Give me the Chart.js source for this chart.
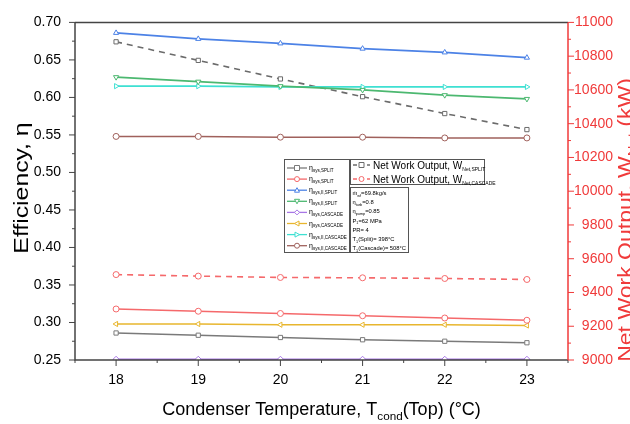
<!DOCTYPE html>
<html>
<head>
<meta charset="utf-8">
<script src="https://cdn.jsdelivr.net/npm/chart.js@4.4.1/dist/chart.umd.min.js"></script>
<style>
  html, body { margin: 0; padding: 0; background: #fff; }
  canvas { display: block; }
</style>
</head>
<body>
<canvas id="chart" width="630" height="424"></canvas>
<script>
// data
var condTemps = [18, 19, 20, 21, 22, 23];
var etaSysSplit = [0.286, 0.283, 0.280, 0.277, 0.275, 0.273];
var etaSysSplitB = [0.318, 0.315, 0.312, 0.309, 0.306, 0.303];
var etaSysIISplit = [0.686, 0.678, 0.672, 0.665, 0.660, 0.653];
var etaSysIISplitB = [0.627, 0.621, 0.615, 0.610, 0.603, 0.598];
var etaSysCascade = [0.251, 0.251, 0.251, 0.251, 0.251, 0.251];
var etaSysCascadeB = [0.298, 0.298, 0.297, 0.297, 0.297, 0.296];
var etaSysIICascade = [0.615, 0.615, 0.614, 0.614, 0.614, 0.614];
var etaSysIICascadeB = [0.548, 0.548, 0.547, 0.547, 0.546, 0.546];
var wNetSplit = [10885, 10775, 10665, 10560, 10460, 10365];
var wNetCascade = [9506, 9497, 9489, 9487, 9483, 9477];

var effTicks = [0.25, 0.30, 0.35, 0.40, 0.45, 0.50, 0.55, 0.60, 0.65, 0.70];
var workTicks = [9000, 9200, 9400, 9600, 9800, 10000, 10200, 10400, 10600, 10800, 11000];

var FONT = '"Liberation Sans", Arial, sans-serif';
var RED = '#f03a3a';

function pts(arr) {
    return condTemps.map(function(t, i) { return { x: t, y: arr[i] }; });
}

// [label sub, values, colour, marker, axis, dashed]
var series = [
    ['sys,SPLIT', etaSysSplit, '#7a7a7a', 'rect', 'y', false],
    ['sys,SPLIT', etaSysSplitB, '#f5696b', 'circle', 'y', false],
    ['sys,II,SPLIT', etaSysIISplit, '#4c82e6', 'up', 'y', false],
    ['sys,II,SPLIT', etaSysIISplitB, '#4cb870', 'down', 'y', false],
    ['sys,CASCADE', etaSysCascade, '#a877e6', 'diamond', 'y', false],
    ['sys,CASCADE', etaSysCascadeB, '#e8b62e', 'left', 'y', false],
    ['sys,II,CASCADE', etaSysIICascade, '#3ee0d2', 'right', 'y', false],
    ['sys,II,CASCADE', etaSysIICascadeB, '#a0615c', 'circle', 'y', false],
    ['Net,SPLIT', wNetSplit, '#6b6b6b', 'rect', 'y2', true],
    ['Net,CASCADE', wNetCascade, '#f5696b', 'circle', 'y2', true]
];

var styleMap = {
    rect: ['rect', 0], circle: ['circle', 0], up: ['triangle', 0], down: ['triangle', 180],
    left: ['triangle', 270], right: ['triangle', 90], diamond: ['rectRot', 0]
};

var datasets = series.map(function(s) {
    return {
        label: s[0],
        data: pts(s[1]),
        yAxisID: s[4],
        borderColor: s[2],
        backgroundColor: '#fff',
        pointBorderColor: s[2],
        pointBackgroundColor: '#fff',
        pointStyle: styleMap[s[3]][0],
        pointRotation: styleMap[s[3]][1],
        pointRadius: 3,
        pointBorderWidth: 1,
        borderWidth: 1.6,
        borderDash: s[5] ? [6, 5] : [],
        tension: 0,
        fill: false
    };
});

function marker(ctx, kind, x, y, r) {
    ctx.beginPath();
    if (kind == 'circle') ctx.arc(x, y, r, 0, Math.PI * 2);
    else if (kind == 'rect') ctx.rect(x - r, y - r, 2 * r, 2 * r);
    else if (kind == 'diamond') { ctx.moveTo(x, y - r); ctx.lineTo(x + r, y); ctx.lineTo(x, y + r); ctx.lineTo(x - r, y); }
    else if (kind == 'up') { ctx.moveTo(x, y - r); ctx.lineTo(x + r, y + r * 0.8); ctx.lineTo(x - r, y + r * 0.8); }
    else if (kind == 'down') { ctx.moveTo(x, y + r); ctx.lineTo(x + r, y - r * 0.8); ctx.lineTo(x - r, y - r * 0.8); }
    else if (kind == 'left') { ctx.moveTo(x - r, y); ctx.lineTo(x + r * 0.8, y - r); ctx.lineTo(x + r * 0.8, y + r); }
    else if (kind == 'right') { ctx.moveTo(x + r, y); ctx.lineTo(x - r * 0.8, y - r); ctx.lineTo(x - r * 0.8, y + r); }
    ctx.closePath();
    ctx.fill();
    ctx.stroke();
}

// text with subscripts: parts = [[text, isSub], ...]
function richWidth(ctx, parts, size, subK) {
    subK = subK || 0.65;
    var w = 0;
    parts.forEach(function(p) {
        ctx.font = (p[1] ? size * subK : size) + 'px ' + FONT;
        w += ctx.measureText(p[0]).width;
    });
    return w;
}
function drawRich(ctx, parts, x, y, size, color, subK) {
    subK = subK || 0.65;
    ctx.fillStyle = color;
    ctx.textAlign = 'left';
    ctx.textBaseline = 'alphabetic';
    var cx = x;
    parts.forEach(function(p) {
        ctx.font = (p[1] ? size * subK : size) + 'px ' + FONT;
        ctx.fillText(p[0], cx, p[1] ? y + size * 0.28 : y);
        cx += ctx.measureText(p[0]).width;
    });
}

var framePlugin = {
    id: 'frame',
    afterDraw: function(chart) {
        var ctx = chart.ctx;
        var a = chart.chartArea;
        var xs = chart.scales.x, ys = chart.scales.y, y2 = chart.scales.y2;
        ctx.save();
        ctx.lineWidth = 1.5;
        ctx.strokeStyle = '#444';
        ctx.beginPath();
        ctx.moveTo(a.left, a.top); ctx.lineTo(a.right, a.top);
        ctx.moveTo(a.left, a.top); ctx.lineTo(a.left, a.bottom); ctx.lineTo(a.right, a.bottom);
        ctx.stroke();
        // ticks
        ctx.lineWidth = 1;
        ctx.beginPath();
        for (var v = 17.5; v <= 23.51; v += 0.5) {
            var px = xs.getPixelForValue(v);
            var len = Math.abs(v - Math.round(v)) < 0.01 ? 6 : 3;
            ctx.moveTo(px, a.bottom); ctx.lineTo(px, a.bottom + len);
        }
        for (var e = 0; e <= 18; e++) {
            var py = ys.getPixelForValue(0.25 + e * 0.025);
            ctx.moveTo(a.left, py); ctx.lineTo(a.left - (e % 2 ? 3 : 6), py);
        }
        ctx.stroke();
        ctx.strokeStyle = RED;
        ctx.lineWidth = 1.5;
        ctx.beginPath();
        ctx.moveTo(a.right, a.top); ctx.lineTo(a.right, a.bottom);
        ctx.stroke();
        ctx.lineWidth = 1;
        ctx.beginPath();
        for (var w = 0; w <= 20; w++) {
            var pw = y2.getPixelForValue(9000 + w * 100);
            ctx.moveTo(a.right, pw); ctx.lineTo(a.right + (w % 2 ? 3 : 6), pw);
        }
        ctx.stroke();

        // axis titles
        var xt = [['Condenser Temperature, T', false], ['cond', true], ['(Top) (\u00B0C)', false]];
        var xw = richWidth(ctx, xt, 18);
        drawRich(ctx, xt, (a.left + a.right) / 2 - xw / 2, 415, 18, '#000');

        var yt = [['Efficiency, \u03B7', false]];
        ctx.save();
        ctx.translate(28, 188);
        ctx.rotate(-Math.PI / 2);
        ctx.scale(1.18, 1);
        drawRich(ctx, yt, -richWidth(ctx, yt, 21) / 2, 0, 21, '#000');
        ctx.restore();

        var rt = [['Net Work Output, W', false], ['Net', true], [' (kW)', false]];
        ctx.save();
        ctx.translate(632, 220);
        ctx.rotate(-Math.PI / 2);
        ctx.scale(1.18, 1);
        drawRich(ctx, rt, -richWidth(ctx, rt, 19.5) / 2, 0, 19.5, RED);
        ctx.restore();

        // legend boxes
        ctx.strokeStyle = '#555';
        ctx.lineWidth = 1;
        ctx.fillStyle = '#fff';
        [[284.5, 159.5, 65, 93], [350.5, 159.5, 134, 25], [350.5, 187.5, 58, 65]].forEach(function(b) {
            ctx.fillRect(b[0], b[1], b[2], b[3]);
            ctx.strokeRect(b[0], b[1], b[2], b[3]);
        });
        for (var i = 0; i < 8; i++) {
            var s = series[i];
            var ly = 168 + i * 11.1;
            ctx.strokeStyle = s[2];
            ctx.lineWidth = 1.3;
            ctx.setLineDash([]);
            ctx.beginPath(); ctx.moveTo(287, ly); ctx.lineTo(307, ly); ctx.stroke();
            ctx.lineWidth = 1;
            ctx.fillStyle = '#fff';
            marker(ctx, s[3], 297, ly, 2.5);
            drawRich(ctx, [['\u03B7', false], [s[0], true]], 309, ly + 2, 7, '#000');
        }
        for (var j = 8; j < 10; j++) {
            var s2 = series[j];
            var ly2 = j == 8 ? 165 : 179;
            ctx.strokeStyle = s2[2];
            ctx.lineWidth = 1.3;
            ctx.setLineDash([4, 3]);
            ctx.beginPath(); ctx.moveTo(353, ly2); ctx.lineTo(370, ly2); ctx.stroke();
            ctx.setLineDash([]);
            ctx.lineWidth = 1;
            ctx.fillStyle = '#fff';
            marker(ctx, s2[3], 361.5, ly2, 2.5);
            drawRich(ctx, [['Net Work Output, W', false], [s2[0], true]], 373, ly2 + 3.5, 10, '#000', 0.5);
        }
        var params = [
            [['m\u0307', false], ['wf', true], ['=69.8kg/s', false]],
            [['\u03B7', false], ['turb', true], ['=0.8', false]],
            [['\u03B7', false], ['pump', true], ['=0.85', false]],
            [['P', false], ['1', true], ['=62 MPa', false]],
            [['PR= 4', false]],
            [['T', false], ['1', true], ['(Split)= 398\u00B0C', false]],
            [['T', false], ['1', true], ['(Cascade)= 508\u00B0C', false]]
        ];
        params.forEach(function(p, k) {
            drawRich(ctx, p, 352.5, 195 + k * 9.2, 5.8, '#000');
        });
        ctx.restore();
    }
};

new Chart(document.getElementById('chart'), {
    type: 'line',
    data: { datasets: datasets },
    options: {
        responsive: false,
        animation: false,
        layout: { padding: { top: 15, right: 17, bottom: 0, left: 0 } },
        plugins: { legend: { display: false }, tooltip: { enabled: false } },
        scales: {
            x: {
                type: 'linear', min: 17.5, max: 23.5,
                afterBuildTicks: function(s) { s.ticks = condTemps.map(function(v) { return { value: v }; }); },
                afterFit: function(s) { s.height = 64; },
                grid: { display: false, drawTicks: false },
                border: { display: false },
                ticks: { padding: 12, color: '#000', font: { size: 14, family: FONT } }
            },
            y: {
                position: 'left', min: 0.25, max: 0.70,
                afterBuildTicks: function(s) { s.ticks = effTicks.map(function(v) { return { value: v }; }); },
                afterFit: function(s) { s.width = 75; },
                grid: { display: false, drawTicks: false },
                border: { display: false },
                ticks: { padding: 14, color: '#000', font: { size: 14, family: FONT },
                    callback: function(v) { return v.toFixed(2); } }
            },
            y2: {
                position: 'right', min: 9000, max: 11000,
                afterBuildTicks: function(s) { s.ticks = workTicks.map(function(v) { return { value: v }; }); },
                afterFit: function(s) { s.width = 45; },
                grid: { display: false, drawTicks: false },
                border: { display: false },
                ticks: { crossAlign: 'far', padding: 7, color: RED, font: { size: 14, family: FONT },
                    callback: function(v) { return String(v); } }
            }
        }
    },
    plugins: [framePlugin]
});
</script>
</body>
</html>
